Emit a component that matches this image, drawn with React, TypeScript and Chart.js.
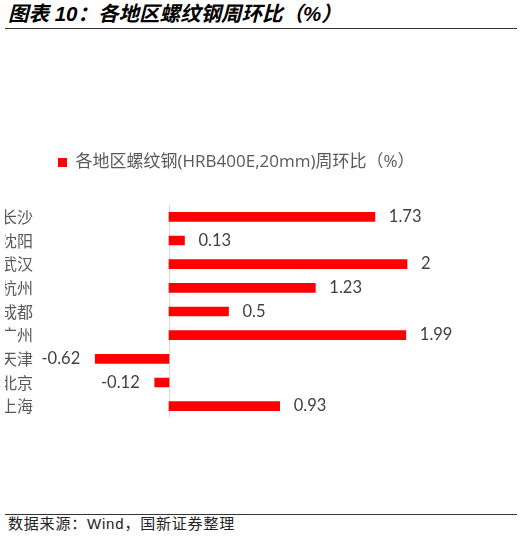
import React, { useEffect, useRef } from "react";
import { Chart, registerables } from "chart.js";

Chart.register(...registerables);

const categories = ["长沙", "沈阳", "武汉", "杭州", "成都", "广州", "天津", "北京", "上海"];
const values = [1.73, 0.13, 2, 1.23, 0.5, 1.99, -0.62, -0.12, 0.93];
const valueLabels = ["1.73", "0.13", "2", "1.23", "0.5", "1.99", "-0.62", "-0.12", "0.93"];
const seriesName = "各地区螺纹钢(HRB400E,20mm)周环比（%）";
const titleText = "图表 10：各地区螺纹钢周环比（%）";
const sourceText = "数据来源：Wind，国新证券整理";

const CJK = "'Noto Sans CJK SC'";

const overlay = {
  id: "overlay",
  beforeInit(chart: any) {
    const leg = chart.legend;
    if (leg) {
      const orig = leg.fit;
      leg.fit = function () {
        orig.call(this);
        this.height += 24;
      };
    }
  },
  beforeDatasetsDraw(chart: any) {
    const { ctx, chartArea, scales } = chart;
    const x0 = Math.round(scales.x.getPixelForValue(0)) + 0.5;
    ctx.save();
    ctx.strokeStyle = "#d9d9d9";
    ctx.lineWidth = 1;
    ctx.beginPath();
    ctx.moveTo(x0, chartArea.top);
    ctx.lineTo(x0, chartArea.bottom);
    ctx.stroke();
    ctx.restore();
  },
  afterDatasetsDraw(chart: any) {
    const { ctx, scales } = chart;
    const meta = chart.getDatasetMeta(0);
    ctx.save();
    ctx.font = "16.5px Lato, 'Noto Sans CJK SC'";
    ctx.fillStyle = "#404040";
    ctx.textBaseline = "middle";
    meta.data.forEach((bar: any, i: number) => {
      const v = values[i];
      if (v >= 0) {
        ctx.textAlign = "left";
        ctx.fillText(valueLabels[i], bar.x + 14, bar.y);
      } else {
        ctx.textAlign = "right";
        ctx.fillText(valueLabels[i], bar.x - 15, bar.y);
      }
    });
    ctx.beginPath();
    ctx.rect(5, 0, 200, chart.height);
    ctx.clip();
    ctx.font = "16px " + CJK;
    ctx.fillStyle = "#595959";
    ctx.textAlign = "left";
    categories.forEach((c, i) => {
      const y = scales.y.getPixelForValue(i);
      ctx.fillText(c, 1, y);
    });
    ctx.restore();
  },
};

export default function App() {
  const ref = useRef<HTMLCanvasElement | null>(null);
  useEffect(() => {
    if (!ref.current) return;
    const chart = new Chart(ref.current, {
      type: "bar",
      data: {
        labels: categories,
        datasets: [
          {
            label: seriesName,
            data: values,
            backgroundColor: "#ff0000",
            borderWidth: 0,
            barThickness: 9,
          },
        ],
      },
      options: {
        indexAxis: "y",
        responsive: false,
        animation: false,
        devicePixelRatio: 1,
        layout: { padding: { left: 50, right: 58.5, top: 0, bottom: 18 } },
        scales: {
          x: { min: -1, max: 2.5, display: false },
          y: { display: false },
        },
        plugins: {
          legend: {
            display: true,
            position: "top",
            align: "start",
            labels: {
              boxWidth: 9,
              boxHeight: 9,
              padding: 8,
              color: "#595959",
              font: { size: 17, family: "'Open Sans', 'Noto Sans CJK SC'" },
            },
          },
          tooltip: { enabled: false },
        },
      } as any,
      plugins: [overlay],
    });
    return () => chart.destroy();
  }, []);

  return (
    <div style={{ position: "absolute", left: 0, top: 0, width: 525, height: 542, background: "#fff" }}>
      <div
        style={{
          position: "absolute",
          left: 8,
          top: 0,
          height: 28,
          lineHeight: "28px",
          fontFamily: "Arial, " + CJK,
          fontWeight: "bold",
          fontStyle: "italic",
          fontSize: 20.5,
          letterSpacing: 0,
          color: "#000",
          whiteSpace: "nowrap",
        }}
      >
        {titleText}
      </div>
      <div style={{ position: "absolute", left: 5, top: 28, width: 512, height: 1, background: "#333" }} />
      <canvas
        ref={ref}
        width={525}
        height={290}
        style={{ position: "absolute", left: 0, top: 146, width: 525, height: 290 }}
      />
      <div style={{ position: "absolute", left: 5, top: 514, width: 512, height: 1, background: "#333" }} />
      <div
        style={{
          position: "absolute",
          left: 8,
          top: 515,
          height: 18,
          lineHeight: "18px",
          fontFamily: "'Liberation Sans', " + CJK,
          fontSize: 15,
          letterSpacing: 0.8,
          color: "#222",
          whiteSpace: "nowrap",
        }}
      >
        {sourceText}
      </div>
    </div>
  );
}
